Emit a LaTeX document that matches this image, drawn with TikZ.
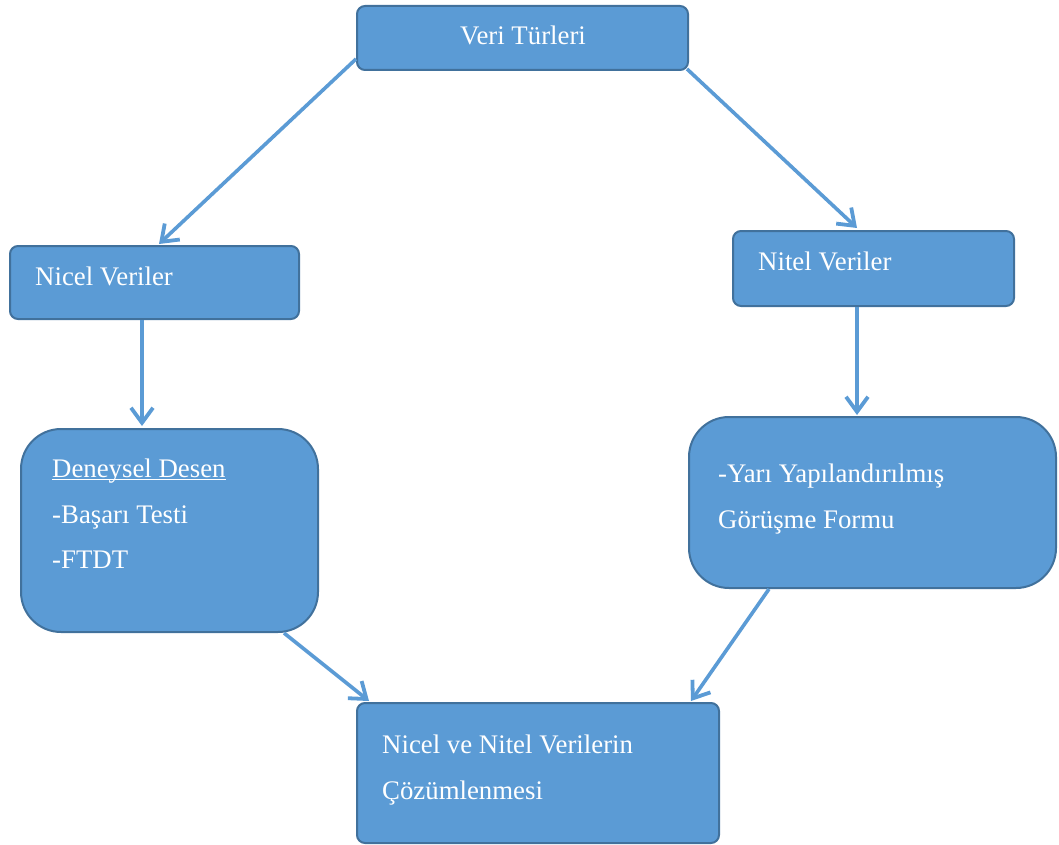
\documentclass[tikz,border=0pt]{standalone}
\usepackage{fontspec}
\setmainfont{Liberation Serif}
\usetikzlibrary{arrows.meta, calc}
\definecolor{boxblue}{HTML}{5B9BD5}
\definecolor{boxedge}{HTML}{41719C}
\definecolor{arrowblue}{HTML}{5B9BD5}
\tikzset{
  box/.style={rectangle, draw=boxedge, fill=boxblue, line width=2pt,
    rounded corners=8pt, inner sep=0pt},
  bigbox/.style={box, rounded corners=40pt},
  lbl/.style={text=white, inner sep=0pt, align=left,
    font=\fontsize{26.8}{45.5}\selectfont},
  arrow/.style={-{Straight Barb[length=15pt, width=22pt, line width=3.8pt 0]},
    line width=3.6pt, color=arrowblue}
}
\begin{document}
\begin{tikzpicture}[x=1pt, y=-1pt]
  \useasboundingbox (0,0) rectangle (1059,845);

  % Boxes
  \node[box, minimum width=331pt, minimum height=64pt] (veri) at (522.5,38) {};
  \node[box, minimum width=289pt, minimum height=73pt] (nicel) at (154.5,282.5) {};
  \node[box, minimum width=281pt, minimum height=75pt] (nitel) at (873.5,268.5) {};
  \node[bigbox, minimum width=297pt, minimum height=203pt] (deney) at (169.5,530.5) {};
  \node[bigbox, minimum width=367pt, minimum height=171pt] (yari) at (872.5,502.5) {};
  \node[box, minimum width=362pt, minimum height=140pt] (cozum) at (538,773) {};

  % Texts
  \node[lbl, anchor=base] (veri-t) at (523,45) {Veri Türleri};
  \node[lbl, anchor=base west] (nicel-t) at (35,285) {Nicel Veriler};
  \node[lbl, anchor=base west] (nitel-t) at (758,270) {Nitel Veriler};
  \node[lbl, anchor=north west] (deney-t) at (52,459)
    {\underline{\raisebox{0pt}[\height][0pt]{Deneysel Desen}}\\-Başarı Testi\\-FTDT};
  \node[lbl, anchor=north west] (yari-t) at (718,464)
    {-Yarı Yapılandırılmış\\Görüşme Formu};
  \node[lbl, anchor=north west] (cozum-t) at (382,735)
    {Nicel ve Nitel Verilerin\\Çözümlenmesi};

  % Arrows
  \draw[arrow] ($(veri.south west)+(0,-12)$) -- ($(nicel.north west)+(150,-1)$);
  \draw[arrow] ($(veri.south east)+(-2,-2)$) -- ($(nitel.north west)+(125,-2)$);
  \draw[arrow] ($(nicel.south west)+(133,0)$) -- ($(deney.north west)+(122,-2)$);
  \draw[arrow] ($(nitel.south west)+(125,0)$) -- ($(yari.north west)+(169,-1)$);
  \draw[arrow] ($(deney.south west)+(264,0)$) -- ($(cozum.north west)+(13,-1)$);
  \draw[arrow] ($(yari.south west)+(81,0)$) -- ($(cozum.north east)+(-29,-1)$);
\end{tikzpicture}
\end{document}
